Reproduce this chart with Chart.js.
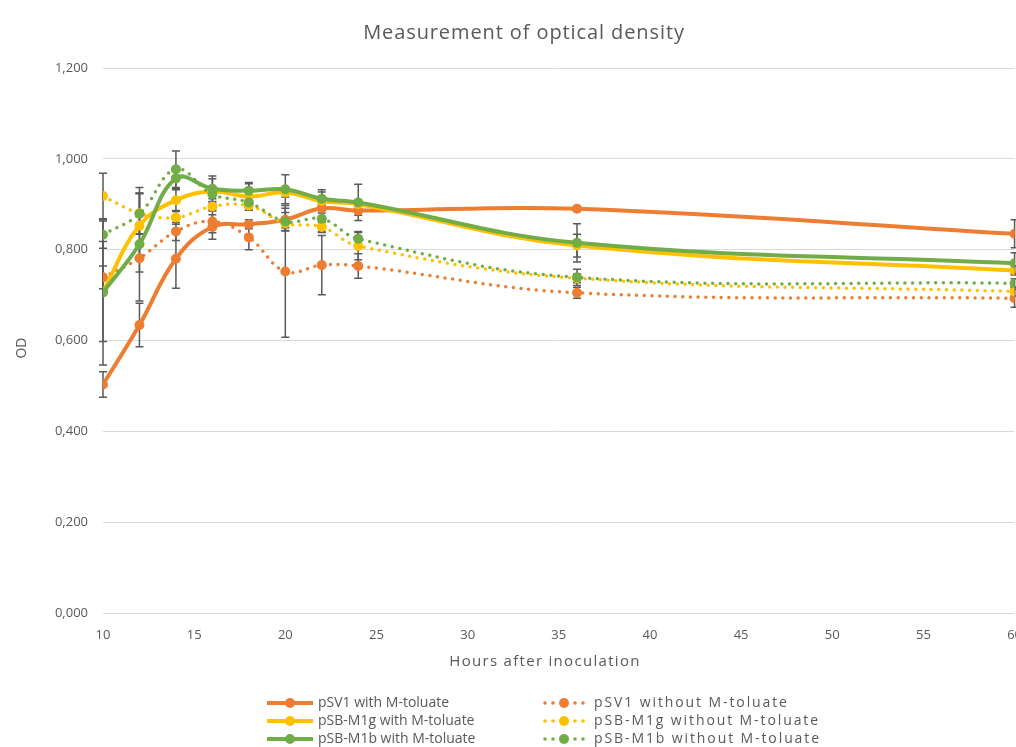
<!DOCTYPE html>
<html>
<head>
<meta charset="utf-8">
<script src="https://cdn.jsdelivr.net/npm/chart.js@4.4.1/dist/chart.umd.min.js"></script>
<style>
    html, body { margin: 0; padding: 0; background: #fff; overflow: hidden; }
    #clip { width: 1016px; height: 747px; overflow: hidden; position: relative; }
    #wrap { width: 1036px; height: 747px; position: absolute; left: 0; top: 0; }
</style>
</head>
<body>
<div id="clip"><div id="wrap"><canvas id="odChart"></canvas></div></div>
<script>
// Hours after inoculation
const hours = [10, 12, 14, 16, 18, 20, 22, 24, 36, 60];

// OD readings per strain
const pSV1With      = [0.503, 0.634, 0.780, 0.850, 0.856, 0.866, 0.891, 0.886, 0.890, 0.835];
const pSV1Without   = [0.739, 0.781, 0.840, 0.862, 0.827, 0.752, 0.766, 0.764, 0.705, 0.693];
const pSBM1gWith    = [0.708, 0.853, 0.909, 0.928, 0.917, 0.926, 0.907, 0.900, 0.809, 0.754];
const pSBM1gWithout = [0.918, 0.880, 0.871, 0.895, 0.897, 0.858, 0.850, 0.808, 0.737, 0.708];
const pSBM1bWith    = [0.706, 0.812, 0.957, 0.934, 0.930, 0.933, 0.912, 0.904, 0.815, 0.770];
const pSBM1bWithout = [0.833, 0.879, 0.977, 0.922, 0.904, 0.862, 0.868, 0.824, 0.739, 0.726];

// error bar half-widths (+/-)
const errSV1With      = [0.028, 0.048, 0.065, 0.027, 0.010, 0.025, 0.010, 0.010, 0.005, 0.031];
const errSV1Without   = [0.025, 0.030, 0.020, 0.025, 0.027, 0.145, 0.065, 0.027, 0.012, 0.020];
const errM1gWith      = [0.110, 0.070, 0.025, 0.028, 0.028, 0.010, 0.020, 0.010, 0.025, 0.010];
const errM1gWithout   = [0.050, 0.045, 0.015, 0.010, 0.010, 0.010, 0.010, 0.030, 0.010, 0.010];
const errM1bWith      = [0.160, 0.125, 0.025, 0.028, 0.018, 0.032, 0.020, 0.040, 0.042, 0.023];
const errM1bWithout   = [0.030, 0.045, 0.040, 0.010, 0.010, 0.020, 0.030, 0.016, 0.018, 0.010];

const ORANGE = '#ED7D31';
const YELLOW = '#FFC000';
const GREEN = '#70AD47';
const TEXT = '#595959';
const FONT = "'Open Sans', sans-serif";

function series(label, values, errors, color, dotted, idx) {
    return {
        label: label,
        data: hours.map((h, i) => ({ x: h, y: values[i] })),
        errors: errors,
        dotted: dotted,
        borderColor: color,
        backgroundColor: color,
        borderWidth: dotted ? 3.5 : 4,
        borderDash: dotted ? [0, 7.7] : [],
        borderCapStyle: 'round',
        tension: 0.4,
        pointRadius: 5,
        pointBorderWidth: 0,
        pointBackgroundColor: color,
        order: -idx
    };
}

const datasets = [
    series('pSV1 with M-toluate', pSV1With, errSV1With, ORANGE, false, 0),
    series('pSV1 without M-toluate', pSV1Without, errSV1Without, ORANGE, true, 1),
    series('pSB-M1g with M-toluate', pSBM1gWith, errM1gWith, YELLOW, false, 2),
    series('pSB-M1g without M-toluate', pSBM1gWithout, errM1gWithout, YELLOW, true, 3),
    series('pSB-M1b with M-toluate', pSBM1bWith, errM1bWith, GREEN, false, 4),
    series('pSB-M1b without M-toluate', pSBM1bWithout, errM1bWithout, GREEN, true, 5)
];

// error bars, drawn under the lines
const errorBars = {
    id: 'errorBars',
    beforeDatasetsDraw(chart) {
        const { ctx, scales: { x, y } } = chart;
        ctx.save();
        ctx.strokeStyle = '#5a5a5a';
        ctx.lineWidth = 1.5;
        chart.data.datasets.forEach(ds => {
            ds.data.forEach((p, i) => {
                const e = ds.errors[i];
                const px = x.getPixelForValue(p.x);
                const top = y.getPixelForValue(p.y + e);
                const bot = y.getPixelForValue(p.y - e);
                ctx.beginPath();
                ctx.moveTo(px, top); ctx.lineTo(px, bot);
                ctx.moveTo(px - 4, top); ctx.lineTo(px + 4, top);
                ctx.moveTo(px - 4, bot); ctx.lineTo(px + 4, bot);
                ctx.stroke();
            });
        });
        ctx.restore();
    }
};

// title, axis titles and the two-column legend
const textLayer = {
    id: 'textLayer',
    afterDraw(chart) {
        const ctx = chart.ctx;
        ctx.save();
        ctx.fillStyle = TEXT;
        ctx.textAlign = 'center';
        ctx.textBaseline = 'middle';

        ctx.letterSpacing = '0.9px';
        ctx.font = '20px ' + FONT;
        ctx.fillText('Measurement of optical density', 524, 33);

        ctx.letterSpacing = '1.3px';
        ctx.font = '15px ' + FONT;
        ctx.fillText('Hours after inoculation', 545, 662);

        ctx.save();
        ctx.translate(22, 348);
        ctx.rotate(-Math.PI / 2);
        ctx.letterSpacing = '0px';
        ctx.font = '14px ' + FONT;
        ctx.fillText('OD', 0, 0);
        ctx.restore();

        const cols = [267, 543];
        const rows = [703, 721, 739];
        chart.data.datasets.forEach((ds, i) => {
            const x0 = cols[i % 2];
            const yy = rows[Math.floor(i / 2)];
            const c = ds.borderColor;
            ctx.strokeStyle = c;
            ctx.fillStyle = c;
            if (!ds.dotted) {
                ctx.lineWidth = 4;
                ctx.lineCap = 'butt';
                ctx.beginPath();
                ctx.moveTo(x0, yy); ctx.lineTo(x0 + 46, yy);
                ctx.stroke();
                ctx.beginPath();
                ctx.arc(x0 + 23, yy, 5, 0, Math.PI * 2);
                ctx.fill();
            } else {
                [2, 10, 32, 40].forEach(dx => {
                    ctx.beginPath();
                    ctx.arc(x0 + dx, yy, 1.8, 0, Math.PI * 2);
                    ctx.fill();
                });
                ctx.beginPath();
                ctx.arc(x0 + 21, yy, 5, 0, Math.PI * 2);
                ctx.fill();
            }
            ctx.fillStyle = TEXT;
            ctx.font = '14px ' + FONT;
            ctx.textAlign = 'left';
            ctx.letterSpacing = ds.dotted ? '1.9px' : '0px';
            ctx.fillText(ds.label, x0 + 51, yy);
        });
        ctx.restore();
    }
};

new Chart(document.getElementById('odChart'), {
    type: 'line',
    data: { datasets: datasets },
    plugins: [errorBars, textLayer],
    options: {
        responsive: true,
        maintainAspectRatio: false,
        animation: false,
        layout: { padding: { top: 68, left: 8, right: 15, bottom: 74 } },
        plugins: {
            legend: { display: false },
            tooltip: { enabled: false },
            title: { display: false }
        },
        scales: {
            x: {
                type: 'linear',
                min: 10,
                max: 60,
                afterFit(scale) { scale.height = 60; },
                grid: { display: false, drawTicks: false },
                border: { display: false },
                ticks: {
                    stepSize: 5,
                    padding: 14,
                    color: TEXT,
                    font: { family: FONT, size: 13 },
                    maxRotation: 0
                }
            },
            y: {
                min: 0,
                max: 1.2,
                afterFit(scale) { scale.width = 95; },
                grid: { color: '#d9d9d9', lineWidth: 1, drawTicks: false },
                border: { display: false },
                ticks: {
                    stepSize: 0.2,
                    padding: 15,
                    color: TEXT,
                    font: { family: FONT, size: 13 },
                    callback: v => v.toFixed(3).replace('.', ',')
                }
            }
        }
    }
});
</script>
</body>
</html>
